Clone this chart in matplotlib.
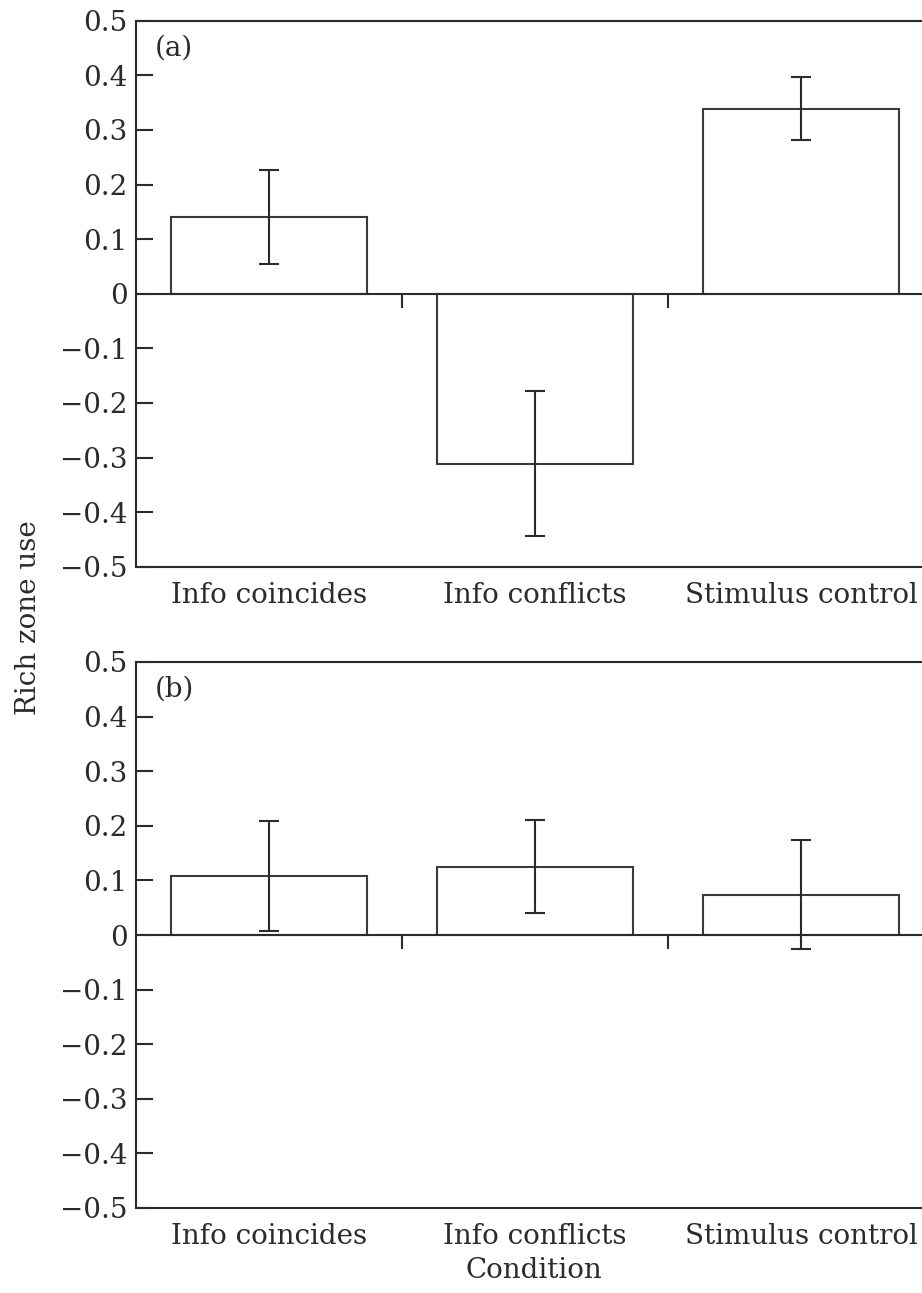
import numpy as np
import matplotlib
matplotlib.use("Agg")
import matplotlib.pyplot as plt

# Data
conditions = ["Info coincides", "Info conflicts", "Stimulus control"]
means_a = [0.141, -0.311, 0.339]
errs_a = [0.086, 0.133, 0.057]
means_b = [0.108, 0.125, 0.074]
errs_b = [0.100, 0.085, 0.100]
yticks = [-0.5, -0.4, -0.3, -0.2, -0.1, 0, 0.1, 0.2, 0.3, 0.4, 0.5]
ytick_labels = ["\u22120.5", "\u22120.4", "\u22120.3", "\u22120.2", "\u22120.1",
                "0", "0.1", "0.2", "0.3", "0.4", "0.5"]
panel_labels = ["(a)", "(b)"]

plt.rcParams["font.family"] = ["DejaVu Serif", "Liberation Serif"]
ink = "#2b2b2b"
fs = 20

fig = plt.figure(figsize=(9.22, 12.93), dpi=100)
W, H = 922, 1293
left = 136 / W
width = 798 / W
ax_a = fig.add_axes([left, (H - 566.7) / H, width, 546 / H])
ax_b = fig.add_axes([left, (H - 1208) / H, width, 546 / H])

x = np.arange(len(conditions))

for ax, means, errs, lab in [(ax_a, means_a, errs_a, panel_labels[0]),
                             (ax_b, means_b, errs_b, panel_labels[1])]:
    ax.bar(x, means, width=0.735, color="white", edgecolor="#3a3a3a",
           linewidth=1.5, zorder=2)
    ax.errorbar(x, means, yerr=errs, fmt="none", ecolor=ink,
                elinewidth=1.5, capsize=7.5, capthick=1.5, zorder=3)
    ax.axhline(0, color=ink, linewidth=1.5, zorder=4)
    # small dividing ticks on the zero line
    ax.plot(x[:-1] + 0.5, np.zeros(len(x) - 1), ls="none", marker=3,
            ms=10, mew=1.5, color=ink, zorder=4)
    ax.set_xlim(-0.5, 2.5)
    ax.set_ylim(-0.5, 0.5)
    ax.set_yticks(yticks)
    ax.set_yticklabels(ytick_labels)
    ax.set_xticks(x)
    ax.set_xticklabels(conditions)
    ax.tick_params(axis="y", direction="in", length=12, width=1.5,
                   pad=6, labelsize=fs, colors=ink)
    ax.tick_params(axis="x", length=0, pad=11, labelsize=fs, colors=ink)
    for s in ax.spines.values():
        s.set_color(ink)
        s.set_linewidth(1.5)
    ax.text(0.024, 0.975, lab, transform=ax.transAxes, ha="left", va="top",
            fontsize=fs, color=ink)

fig.text(28 / W, 1 - 618 / H, "Rich zone use", rotation=90, ha="center",
         va="center", fontsize=fs, color=ink)
fig.text(534 / W, 1 - 1270 / H, "Condition", ha="center", va="center",
         fontsize=fs, color=ink)

fig.savefig("out.png", dpi=100)
